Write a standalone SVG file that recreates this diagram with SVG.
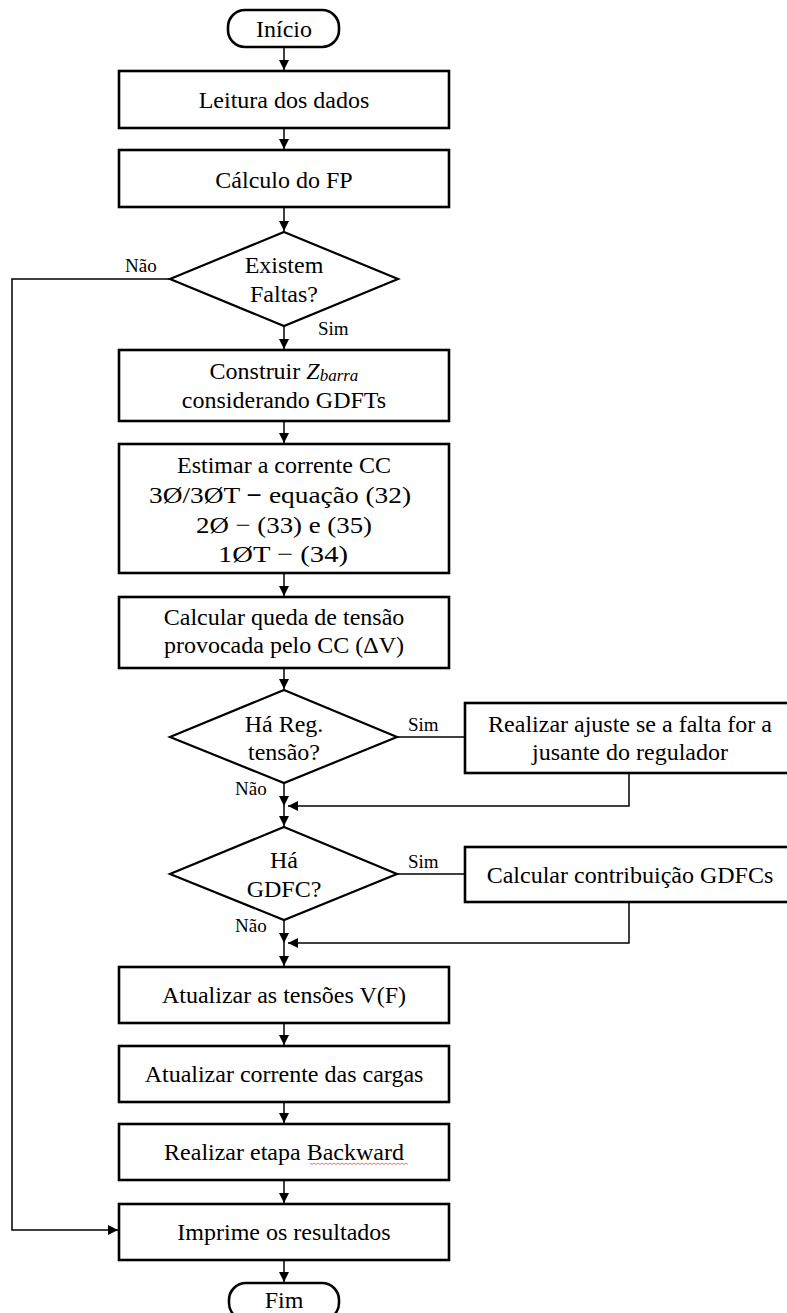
<svg xmlns="http://www.w3.org/2000/svg" width="787" height="1313" viewBox="0 0 787 1313">
<style>
.box{fill:#fff;stroke:#000;stroke-width:2.6}
.dia{fill:#fff;stroke:#000;stroke-width:2.2}
.t{font-family:"Liberation Serif","Times New Roman",serif;font-size:24px;fill:#000;text-anchor:middle}
.lb{font-family:"Liberation Serif","Times New Roman",serif;font-size:19px;fill:#000}
.c{fill:none;stroke:#000;stroke-width:1.5}
.ca{fill:none;stroke:#000;stroke-width:1.5;marker-end:url(#ah)}
</style>
<defs>
<marker id="ah" markerUnits="userSpaceOnUse" markerWidth="11" markerHeight="11" refX="10" refY="5" orient="auto">
<path d="M0,0 L10,5 L0,10 z" fill="#000"/>
</marker>
</defs>
<rect width="787" height="1313" fill="#fff"/>
<g id="connectors">
<line class="ca" x1="284" y1="47" x2="284" y2="70"/>
<line class="ca" x1="284" y1="128" x2="284" y2="149"/>
<line class="ca" x1="284" y1="207" x2="284" y2="231"/>
<line class="ca" x1="284" y1="326" x2="284" y2="349"/>
<line class="ca" x1="284" y1="421" x2="284" y2="443"/>
<line class="ca" x1="284" y1="573" x2="284" y2="596"/>
<line class="ca" x1="284" y1="668" x2="284" y2="689"/>
<line class="c" x1="397" y1="737" x2="465" y2="737"/>
<line class="ca" x1="284" y1="783" x2="284" y2="806"/>
<polyline class="ca" points="629,773 629,806 288,806"/>
<line class="ca" x1="284" y1="806" x2="284" y2="826"/>
<line class="c" x1="397" y1="874" x2="465" y2="874"/>
<line class="ca" x1="284" y1="920" x2="284" y2="943"/>
<polyline class="ca" points="629,902 629,943 288,943"/>
<line class="ca" x1="284" y1="943" x2="284" y2="966"/>
<line class="ca" x1="284" y1="1023" x2="284" y2="1045"/>
<line class="ca" x1="284" y1="1102" x2="284" y2="1123"/>
<line class="ca" x1="284" y1="1180" x2="284" y2="1203"/>
<line class="ca" x1="284" y1="1260" x2="284" y2="1282"/>
<polyline class="ca" points="170,279 12,279 12,1230 118,1230"/>
<text class="lb" x="125" y="272">Não</text>
<text class="lb" x="318" y="335">Sim</text>
<text class="lb" x="408" y="731">Sim</text>
<text class="lb" x="235" y="795">Não</text>
<text class="lb" x="408" y="868">Sim</text>
<text class="lb" x="235" y="932">Não</text>
</g>
<g id="inicio">
<rect x="228" y="10" width="111" height="37" rx="17" class="box"/>
<text class="t" x="284" y="37">Início</text>
</g>
<g id="leitura">
<rect x="119" y="71" width="330" height="57" class="box"/>
<text class="t" x="284" y="108">Leitura dos dados</text>
</g>
<g id="calculo-fp">
<rect x="119" y="150" width="330" height="57" class="box"/>
<text class="t" x="284" y="188">Cálculo do FP</text>
</g>
<g id="existem-faltas">
<polygon points="284,232 398,279 284,326 170,279" class="dia"/>
<text class="t" x="284" y="273">Existem</text>
<text class="t" x="284" y="302">Faltas?</text>
</g>
<g id="zbarra">
<rect x="119" y="350" width="330" height="71" class="box"/>
<text class="t" x="284" y="379">Construir <tspan font-style="italic">Z</tspan><tspan font-style="italic" font-size="17" dy="2">barra</tspan></text>
<text class="t" x="284" y="408">considerando GDFTs</text>
</g>
<g id="estimar">
<rect x="119" y="444" width="330" height="129" class="box"/>
<text class="t" x="284" y="473">Estimar a corrente CC</text>
<text class="t" x="280" y="503" textLength="262" lengthAdjust="spacingAndGlyphs">3Ø/3ØT <tspan font-weight="bold">−</tspan> equação (32)</text>
<text class="t" x="284" y="533" textLength="176" lengthAdjust="spacingAndGlyphs">2Ø  −  (33) e (35)</text>
<text class="t" x="283" y="562" textLength="130" lengthAdjust="spacingAndGlyphs">1ØT  −  (34)</text>
</g>
<g id="queda">
<rect x="119" y="597" width="330" height="71" class="box"/>
<text class="t" x="284" y="625">Calcular queda de tensão</text>
<text class="t" x="284" y="653">provocada pelo CC (ΔV)</text>
</g>
<g id="reg-tensao">
<polygon points="284,690 397,737 284,783 170,737" class="dia"/>
<text class="t" x="284" y="732">Há Reg.</text>
<text class="t" x="284" y="760">tensão?</text>
</g>
<g id="ajuste">
<rect x="465" y="703" width="330" height="70" class="box"/>
<text class="t" x="630" y="732">Realizar ajuste se a falta for a</text>
<text class="t" x="630" y="760">jusante do regulador</text>
</g>
<g id="gdfc">
<polygon points="284,827 397,874 284,920 170,874" class="dia"/>
<text class="t" x="284" y="868">Há</text>
<text class="t" x="284" y="897">GDFC?</text>
</g>
<g id="contribuicao">
<rect x="465" y="847" width="330" height="55" class="box"/>
<text class="t" x="630" y="883">Calcular contribuição GDFCs</text>
</g>
<g id="atualizar-tensoes">
<rect x="119" y="967" width="330" height="56" class="box"/>
<text class="t" x="284" y="1003">Atualizar as tensões V(F)</text>
</g>
<g id="atualizar-corrente">
<rect x="119" y="1046" width="330" height="56" class="box"/>
<text class="t" x="284" y="1082">Atualizar corrente das cargas</text>
</g>
<g id="backward">
<rect x="119" y="1124" width="330" height="56" class="box"/>
<text class="t" x="284" y="1160">Realizar etapa Backward</text>
<path d="M310,1163 l2,1.5 l2,-1.5 l2,1.5 l2,-1.5 l2,1.5 l2,-1.5 l2,1.5 l2,-1.5 l2,1.5 l2,-1.5 l2,1.5 l2,-1.5 l2,1.5 l2,-1.5 l2,1.5 l2,-1.5 l2,1.5 l2,-1.5 l2,1.5 l2,-1.5 l2,1.5 l2,-1.5 l2,1.5 l2,-1.5 l2,1.5 l2,-1.5 l2,1.5 l2,-1.5 l2,1.5 l2,-1.5 l2,1.5 l2,-1.5 l2,1.5 l2,-1.5 l2,1.5 l2,-1.5 l2,1.5 l2,-1.5 l2,1.5 l2,-1.5 l2,1.5 l2,-1.5 l2,1.5 l2,-1.5 l2,1.5 l2,-1.5 l2,1.5 l2,-1.5 l2,1.5" fill="none" stroke="#e05050" stroke-width="0.8"/>
</g>
<g id="imprime">
<rect x="119" y="1204" width="330" height="56" class="box"/>
<text class="t" x="284" y="1240">Imprime os resultados</text>
</g>
<g id="fim">
<rect x="229" y="1283" width="110" height="37" rx="17" class="box"/>
<text class="t" x="284" y="1308">Fim</text>
</g>
</svg>
